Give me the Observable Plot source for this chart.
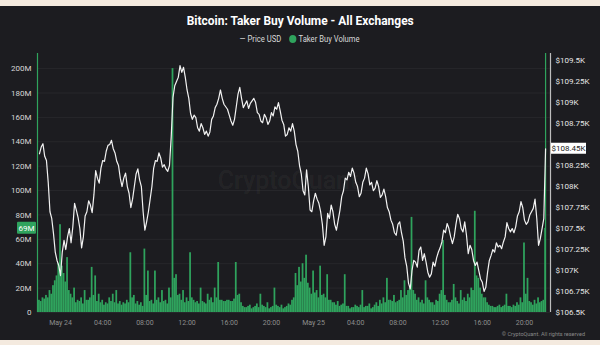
<!DOCTYPE html>
<html><head><meta charset="utf-8">
<script src="https://cdn.jsdelivr.net/npm/d3@7"></script>
<script src="https://cdn.jsdelivr.net/npm/@observablehq/plot@0.6"></script>
<style>
html,body{margin:0;padding:0;background:#f4eadf;}
#frame{position:relative;width:600px;height:345px;background:#f4eadf;overflow:hidden;font-family:Roboto,sans-serif;}
#panel{position:absolute;left:0;top:6px;width:600px;height:334px;background:#1c1c20;}
#title{position:absolute;top:12px;left:0;width:600px;text-align:center;color:#fff;font-weight:bold;font-size:13.5px;white-space:nowrap;}
#title span,#legend span.wrap{display:inline-block;transform-origin:center;}
#legend{position:absolute;top:34px;left:0;width:600px;text-align:center;color:#d8d8d8;font-size:8.5px;white-space:nowrap;}
#legend .dot{display:inline-block;width:8px;height:8px;border-radius:50%;background:#2fa35d;vertical-align:-1px;margin:0 2px 0 7px;}
#chart{position:absolute;left:0;top:50px;}
#copy{position:absolute;right:15px;top:331px;color:#8a8a8a;font-size:5.5px;}
</style>
</head><body>
<div id="frame">
  <div id="panel"></div>
  <div id="title"><span>Bitcoin: Taker Buy Volume - All Exchanges</span></div>
  <div id="legend"><span class="wrap">— Price USD <span class="dot"></span>Taker Buy Volume</span></div>
  <div id="chart"></div>
  <div id="copy">© CryptoQuant. All rights reserved</div>
</div>
<script>
// ---- data: readings every 10 minutes from 2025-05-23 22:00 ----
const startTime = "2025-05-23T22:00:00";
const stepMinutes = 10;
const priceK = [
108.39,108.47,108.51,108.36,108.31,108.05,107.70,107.62,107.44,107.22,
107.12,107.06,106.94,107.22,107.36,107.25,107.40,107.50,107.33,107.52,
107.80,107.72,107.63,107.50,107.27,107.40,107.65,107.70,107.83,107.78,
107.69,107.90,108.19,108.10,108.04,108.22,108.31,108.30,108.42,108.49,
108.50,108.55,108.45,108.40,108.30,108.25,108.10,108.00,108.10,108.16,
108.00,107.92,107.75,107.85,108.00,108.15,108.21,108.08,108.00,107.70,
107.48,107.58,107.70,107.85,108.00,108.22,108.31,108.30,108.40,108.34,
108.23,108.26,108.21,108.18,108.25,108.60,109.06,109.20,109.25,109.30,
109.44,109.36,109.42,109.30,109.15,109.05,108.87,108.80,108.85,108.82,
108.70,108.66,108.75,108.70,108.62,108.66,108.60,108.65,108.80,108.84,
108.94,108.98,109.05,109.15,109.05,108.98,108.95,108.92,108.85,108.78,
108.73,108.80,108.95,109.10,109.18,109.05,108.94,108.98,109.02,108.93,
108.99,109.02,109.05,109.00,108.88,108.86,108.78,108.76,108.86,108.82,
108.74,108.78,108.88,108.84,108.95,108.92,109.00,108.90,108.79,108.74,
108.60,108.62,108.70,108.66,108.75,108.66,108.50,108.42,108.25,108.15,
107.95,107.90,108.20,108.00,107.72,107.70,107.83,107.92,107.85,107.80,
107.70,107.55,107.30,107.40,107.68,107.62,107.78,107.70,107.55,107.48,
107.60,107.72,107.88,107.95,108.10,108.08,108.17,108.12,108.22,108.16,
108.05,108.00,107.88,107.92,108.05,108.10,108.22,108.15,108.02,108.05,
107.95,107.98,108.07,108.00,107.87,107.90,107.97,107.88,107.75,107.70,
107.60,107.55,107.45,107.42,107.55,107.58,107.45,107.35,107.15,107.05,
106.85,106.78,107.00,107.12,107.10,107.04,107.24,107.28,107.12,107.20,
107.10,106.98,106.92,106.96,107.10,107.05,107.15,107.22,107.27,107.34,
107.48,107.45,107.56,107.50,107.40,107.32,107.40,107.55,107.67,107.62,
107.50,107.46,107.58,107.42,107.20,107.30,107.25,107.12,107.06,107.10,
107.00,106.90,106.86,106.75,106.80,106.98,107.12,107.18,107.25,107.22,
107.33,107.28,107.30,107.26,107.34,107.40,107.57,107.50,107.46,107.50,
107.45,107.52,107.65,107.70,107.82,107.75,107.60,107.55,107.58,107.66,
107.70,107.74,107.85,107.62,107.30,107.38,107.50,107.62,108.45];
const volumeM = [
10,9,12,11,14,12,18,15,22,26,
30,40,72,38,32,25,45,18,15,12,
20,8,10,9,12,7,18,10,10,12,
37,14,30,9,15,8,10,6,8,7,
12,9,15,8,18,7,9,6,8,7,
10,8,49,12,14,7,9,6,8,5,
52,14,34,9,10,7,34,10,12,8,
18,9,10,7,20,12,200,28,31,14,
15,10,18,8,12,9,49,12,10,8,
9,7,20,9,8,7,15,10,12,8,
20,12,41,10,10,9,9,10,10,9,
9,11,41,14,15,8,5,4,4,5,
6,3,4,5,7,4,15,6,5,4,
8,3,4,5,20,6,5,4,6,3,
4,5,7,6,10,12,32,22,37,25,
40,28,47,24,20,15,34,16,18,12,
38,14,15,12,31,10,10,8,8,6,
9,5,6,7,31,5,5,3,4,4,
6,5,4,6,18,4,5,5,7,3,
4,6,8,5,10,7,12,8,28,10,
10,9,14,8,9,10,18,12,26,14,
18,20,78,18,15,10,12,8,10,7,
26,12,10,8,8,6,10,9,15,18,
59,14,10,8,8,10,23,12,9,7,
18,10,12,9,15,12,20,18,83,30,
28,20,15,12,12,8,6,5,5,4,
4,5,6,4,5,6,15,5,5,4,
6,5,8,6,12,8,57,15,28,9,
8,6,10,7,12,8,9,10,69];
const leftTicksM = [0,20,40,60,80,100,120,140,160,180,200];
const rightTicksK = [106.5,106.75,107,107.25,107.5,107.75,108,108.25,108.75,109,109.25,109.5];
const xTicks = ["2025-05-24T00:00","2025-05-24T04:00","2025-05-24T08:00","2025-05-24T12:00","2025-05-24T16:00","2025-05-24T20:00",
                "2025-05-25T00:00","2025-05-25T04:00","2025-05-25T08:00","2025-05-25T12:00","2025-05-25T16:00","2025-05-25T20:00"];
const xDomain = ["2025-05-23T21:49:00","2025-05-25T22:28:00"];
const lastVolumeM = 69;
const lastPriceK = 108.45;

// ---- mapping price onto the volume axis ----
const PMIN = 106.5, PMAX = 109.5, VAT_PMAX = 206.6, VTOP = 212.4;
const p2v = p => (p - PMIN) / (PMAX - PMIN) * VAT_PMAX;
const v2p = v => PMIN + v / VAT_PMAX * (PMAX - PMIN);

const t0 = new Date(startTime);
const step = stepMinutes * 60000;
const rows = priceK.map((p, i) => ({date: new Date(+t0 + i * step), price: p, vol: volumeM[i]}));
const green = "#2fa35d";

const fmtTime = d => d.getHours() === 0 ? d3.timeFormat("%b %d")(d).replace(/ 0/, " ") : d3.timeFormat("%H:%M")(d);

const plot = Plot.plot({
  width: 600, height: 285,
  marginLeft: 37, marginRight: 50, marginTop: 3, marginBottom: 23,
  style: {background: "transparent", color: "#d0d0d0", fontFamily: "Roboto, sans-serif", fontSize: "8px"},
  x: {type: "time", domain: xDomain.map(d => new Date(d))},
  y: {domain: [0, VTOP]},
  marks: [
    Plot.ruleY(leftTicksM, {stroke: "#ffffff", strokeOpacity: 0.05}),
    Plot.text(["CryptoQuant"], {frameAnchor: "middle", dx: -6, dy: -2, fontSize: 25, fill: "#ffffff", fillOpacity: 0.055, fontWeight: 500}),
    Plot.rectY(rows, {x1: d => new Date(+d.date - step / 2), x2: d => new Date(+d.date + step / 2), y: "vol", fill: green}),
    Plot.ruleX(rows.slice(-1), {x: "date", stroke: green, strokeWidth: 1.2}),
    Plot.line(rows, {x: "date", y: d => p2v(d.price), stroke: "#f2f2f2", strokeWidth: 1.2}),
    Plot.ruleX([new Date(xDomain[0])], {stroke: green, strokeWidth: 1.2}),
    Plot.ruleX([new Date(xDomain[1])], {stroke: "#bdbdbd", strokeWidth: 1.2}),
    Plot.axisY({anchor: "left", label: null, ticks: leftTicksM, tickSize: 0, tickPadding: 6, tickFormat: d => d === 0 ? "0" : d + "M", fill: "#d6d6d6", fontSize: 8}),
    Plot.axisY({anchor: "right", label: null, ticks: rightTicksK.map(p2v), tickSize: 0, tickPadding: 5, tickFormat: v => "$" + (+v2p(v).toFixed(2)) + "K", fill: "#e6e6e6", fontSize: 8}),
    Plot.axisX({label: null, ticks: xTicks.map(d => new Date(d)), tickSize: 0, tickPadding: 8, tickFormat: fmtTime, fill: "#8d8d8d", fontSize: 7})
  ]
});
document.getElementById("chart").appendChild(plot);

// value badges positioned with the plot's own scales
const ys = plot.scale("y");
const svg = d3.select(plot);
const yv = ys.apply(lastVolumeM);
svg.append("rect").attr("x", 17).attr("y", yv - 6).attr("width", 19).attr("height", 12).attr("fill", green).attr("rx", 1);
svg.append("text").attr("x", 26.5).attr("y", yv).attr("dy", "0.35em").attr("text-anchor", "middle").attr("fill", "#fff").attr("font-size", 8).text(lastVolumeM + "M");
const yp = ys.apply(p2v(lastPriceK));
svg.append("rect").attr("x", 551).attr("y", yp - 5.5).attr("width", 35).attr("height", 11).attr("fill", "#fff");
svg.append("text").attr("x", 568.5).attr("y", yp).attr("dy", "0.35em").attr("text-anchor", "middle").attr("fill", "#222").attr("font-size", 8).text("$" + lastPriceK + "K");

// condense the title/legend to the reference widths
function fit(el, w) { const r = el.getBoundingClientRect().width; if (r > 0) el.style.transform = `scaleX(${w / r})`; }
fit(document.querySelector("#title span"), 227);
fit(document.querySelector("#legend span.wrap"), 120);
</script>
</body></html>
